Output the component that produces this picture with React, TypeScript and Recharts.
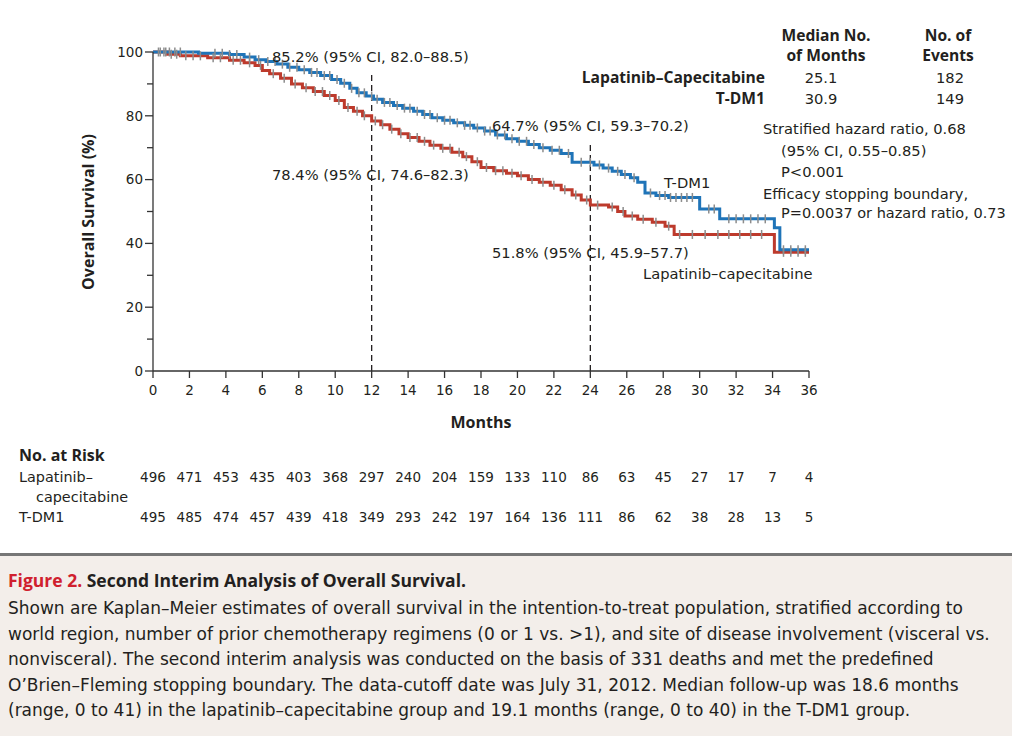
import React from "react"
import {
  ComposedChart,
  Line,
  Scatter,
  XAxis,
  YAxis,
  ReferenceLine,
} from "recharts"

// Kaplan-Meier step points: [month, survival %]
const tdm1Steps: [number, number][] = [
  [0, 100], [2.5, 99.6], [4.2, 99.2], [5.0, 98.4], [5.6, 97.6], [6.2, 97.0],
  [6.8, 96.2], [7.4, 95.2], [8.0, 94.4], [8.6, 93.6], [9.2, 92.6], [9.8, 91.4],
  [10.3, 90.2], [10.8, 88.6], [11.2, 87.2], [11.7, 86.2], [12.1, 85.2], [12.6, 84.2],
  [13.2, 83.2], [13.7, 82.4], [14.3, 81.4], [14.8, 80.4], [15.3, 79.4], [15.9, 78.6],
  [16.5, 77.8], [17.1, 77.0], [17.6, 76.2], [18.2, 75.2], [18.8, 74.0], [19.4, 72.8],
  [20.0, 72.0], [20.6, 71.0], [21.2, 70.0], [21.8, 69.2], [22.4, 68.2], [23.0, 65.4],
  [24.2, 64.6], [24.7, 63.6], [25.2, 62.6], [25.7, 61.6], [26.2, 60.6], [26.6, 59.2],
  [27.0, 55.8], [27.6, 55.0], [28.3, 54.4], [30.0, 50.8], [31.1, 47.7], [34.1, 44.9],
  [34.4, 38.0], [36.0, 38.0],
]

const lapSteps: [number, number][] = [
  [0, 100], [0.8, 99.3], [1.5, 98.8], [3.0, 98.2], [4.2, 97.4], [5.0, 96.6],
  [5.6, 95.8], [6.0, 94.2], [6.4, 93.2], [7.0, 91.8], [7.6, 90.0], [8.2, 88.8],
  [8.8, 87.6], [9.4, 86.4], [10.0, 84.8], [10.5, 82.6], [11.0, 81.4], [11.5, 80.0],
  [12.0, 78.4], [12.5, 77.2], [13.0, 75.8], [13.5, 74.4], [14.0, 73.2], [14.6, 72.0],
  [15.2, 70.8], [15.8, 69.8], [16.4, 68.6], [17.0, 67.2], [17.5, 65.6], [18.0, 63.8],
  [18.7, 62.8], [19.4, 62.0], [20.0, 61.2], [20.6, 60.0], [21.2, 59.2], [21.8, 58.2],
  [22.4, 56.8], [23.0, 55.2], [23.5, 53.6], [24.0, 52.0], [25.0, 51.4], [25.5, 50.0],
  [25.9, 48.6], [26.6, 47.6], [27.4, 46.6], [28.1, 45.4], [28.6, 42.8], [34.1, 37.2],
  [36.0, 37.2],
]

// censoring marks (months)
const tdm1Censor = [
  0.3, 0.6, 0.9, 1.2, 1.5, 3.4, 3.8, 4.2, 4.6, 5.3, 5.8, 6.3, 6.7, 7.1, 7.5, 7.9,
  8.3, 8.7, 9.0, 9.4, 9.7, 10.1, 10.5, 10.9, 11.3, 11.6, 12.0, 12.3, 12.7, 13.0,
  13.4, 13.8, 14.1, 14.5, 14.9, 15.2, 15.6, 16.0, 16.3, 16.7, 17.1, 17.4, 17.8,
  18.2, 18.5, 18.9, 19.3, 19.7, 20.1, 20.5, 20.9, 21.4, 21.9, 22.3, 22.8, 23.5,
  24.0, 24.5, 25.0, 25.5, 25.9, 26.4, 27.3, 27.8, 28.1, 28.4, 28.7, 29.0, 29.3,
  29.6, 30.5, 30.8, 31.6, 32.0, 32.4, 32.8, 33.2, 33.6, 34.6, 35.0, 35.4, 35.8,
]
const lapCensor = [
  0.4, 0.7, 1.0, 1.3, 1.8, 2.2, 2.6, 3.3, 3.7, 4.4, 4.8, 5.3, 5.9, 6.6, 7.2, 7.8,
  8.4, 8.9, 9.3, 9.7, 10.2, 10.7, 11.2, 11.6, 12.2, 12.6, 13.1, 13.6, 14.1, 14.5,
  14.9, 15.4, 15.9, 16.3, 16.8, 17.2, 17.8, 18.3, 18.8, 19.2, 19.7, 20.2, 20.8,
  21.4, 22.0, 22.6, 23.2, 23.8, 24.4, 25.2, 25.8, 26.3, 26.9, 27.6, 28.3, 28.9,
  29.6, 30.3, 31.0, 31.6, 32.2, 32.8, 33.4, 34.6, 35.0, 35.4, 35.8,
]

const monthTicks = [0, 2, 4, 6, 8, 10, 12, 14, 16, 18, 20, 22, 24, 26, 28, 30, 32, 34, 36]
const survTicks = [0, 10, 20, 30, 40, 50, 60, 70, 80, 90, 100]
const lapRisk = [496, 471, 453, 435, 403, 368, 297, 240, 204, 159, 133, 110, 86, 63, 45, 27, 17, 7, 4]
const tdm1Risk = [495, 485, 474, 457, 439, 418, 349, 293, 242, 197, 164, 136, 111, 86, 62, 38, 28, 13, 5]

// landmark dashed lines: [month, top of dashed line in %]
const landmarks: [number, number][] = [[12, 94], [24, 72]]

const captionLines = [
  "Shown are Kaplan–Meier estimates of overall survival in the intention-to-treat population, stratified according to",
  "world region, number of prior chemotherapy regimens (0 or 1 vs. >1), and site of disease involvement (visceral vs.",
  "nonvisceral). The second interim analysis was conducted on the basis of 331 deaths and met the predefined",
  "O’Brien–Fleming stopping boundary. The data-cutoff date was July 31, 2012. Median follow-up was 18.6 months",
  "(range, 0 to 41) in the lapatinib–capecitabine group and 19.1 months (range, 0 to 40) in the T-DM1 group.",
]

const BLUE = "#1f74b8"
const RED = "#bd3a2c"
const INK = "#231f20"
const SANS = '"DejaVu Sans", sans-serif'
const BOLD = '"Open Sans", sans-serif'

const toPoints = (steps: [number, number][]) => steps.map(([t, s]) => ({ t, s }))
const survivalAt = (steps: [number, number][], t: number) => {
  let s = steps[0][1]
  for (const [ti, si] of steps) if (ti <= t) s = si
  return s
}
const censorPoints = (steps: [number, number][], times: number[]) =>
  times.map((t) => ({ t, s: survivalAt(steps, t) }))

function CensorMark(props: any) {
  const { cx, cy } = props
  return <line x1={cx} x2={cx} y1={cy - 4.5} y2={cy + 4.5} stroke="#8c8c8c" strokeWidth={1.5} />
}

function YTick(props: any) {
  const { x, y, payload } = props
  const major = payload.value % 20 === 0
  return (
    <g>
      <line x1={x + 10 - (major ? 8 : 6)} x2={x + 10} y1={y} y2={y} stroke="#333" strokeWidth={1.3} />
      {major && (
        <text x={x} y={y} dy="0.36em" textAnchor="end" fontSize={13.5} fontFamily={SANS} fill={INK}>
          {payload.value}
        </text>
      )}
    </g>
  )
}

function RiskTick(props: any) {
  const { x, y, payload, counts } = props
  return (
    <text x={x} y={y + 20} dy="0.36em" textAnchor="middle" fontSize={13.5} fontFamily={SANS} fill={INK}>
      {counts[monthTicks.indexOf(payload.value)]}
    </text>
  )
}

function T({ x, y, align = "start", size = 14.7, weight = 400, color = INK, children }: any) {
  const lh = Math.round(size * 1.4)
  const base: React.CSSProperties = {
    position: "absolute",
    top: y - lh / 2,
    lineHeight: `${lh}px`,
    fontSize: size,
    fontWeight: weight,
    fontFamily: weight >= 600 ? BOLD : SANS,
    color,
    whiteSpace: "nowrap",
  }
  if (align === "middle") return <div style={{ ...base, left: x - 200, width: 400, textAlign: "center" }}>{children}</div>
  if (align === "end") return <div style={{ ...base, left: x - 600, width: 600, textAlign: "right" }}>{children}</div>
  return <div style={{ ...base, left: x }}>{children}</div>
}

export default function App() {
  return (
    <div
      style={{
        position: "absolute",
        left: 0,
        top: 0,
        width: 1012,
        height: 736,
        background: "#fff",
        fontFamily: SANS,
        color: INK,
        overflow: "hidden",
      }}
    >
      <div style={{ position: "absolute", left: 0, top: 0 }}>
        <ComposedChart width={1012} height={527} margin={{ top: 52, right: 203, bottom: 0, left: 103 }}>
          <XAxis
            type="number"
            dataKey="t"
            domain={[0, 36]}
            ticks={monthTicks}
            interval={0}
            allowDataOverflow
            height={86}
            tickSize={7}
            tickMargin={7}
            axisLine={{ stroke: "#333", strokeWidth: 1.3 }}
            tickLine={{ stroke: "#333", strokeWidth: 1.3 }}
            tick={{ fontSize: 13.5, fontFamily: SANS, fill: INK }}
          />
          <XAxis
            xAxisId="lap"
            type="number"
            dataKey="t"
            domain={[0, 36]}
            ticks={monthTicks}
            interval={0}
            allowDataOverflow
            height={40}
            tickSize={0}
            tickMargin={0}
            axisLine={false}
            tickLine={false}
            tick={(p: any) => <RiskTick {...p} counts={lapRisk} />}
          />
          <XAxis
            xAxisId="tdm1"
            type="number"
            dataKey="t"
            domain={[0, 36]}
            ticks={monthTicks}
            interval={0}
            allowDataOverflow
            height={30}
            tickSize={0}
            tickMargin={0}
            axisLine={false}
            tickLine={false}
            tick={(p: any) => <RiskTick {...p} counts={tdm1Risk} />}
          />
          <YAxis
            type="number"
            dataKey="s"
            domain={[0, 100]}
            ticks={survTicks}
            interval={0}
            width={50}
            tickSize={8}
            tickMargin={2}
            tickLine={false}
            axisLine={{ stroke: "#333", strokeWidth: 1.3 }}
            tick={<YTick />}
          />
          {landmarks.map(([m, top]) => (
            <ReferenceLine
              key={m}
              segment={[{ x: m, y: 0 }, { x: m, y: top }]}
              stroke={INK}
              strokeWidth={1.3}
              strokeDasharray="6 4"
            />
          ))}
          <Scatter data={censorPoints(tdm1Steps, tdm1Censor)} shape={<CensorMark />} isAnimationActive={false} />
          <Scatter data={censorPoints(lapSteps, lapCensor)} shape={<CensorMark />} isAnimationActive={false} />
          <Line
            data={toPoints(lapSteps)}
            dataKey="s"
            type="stepAfter"
            stroke={RED}
            strokeWidth={3}
            dot={false}
            isAnimationActive={false}
          />
          <Line
            data={toPoints(tdm1Steps)}
            dataKey="s"
            type="stepAfter"
            stroke={BLUE}
            strokeWidth={3}
            dot={false}
            isAnimationActive={false}
          />
        </ComposedChart>
      </div>

      {/* y-axis title */}
      <div
        style={{
          position: "absolute",
          left: 88 - 150,
          top: 212 - 11,
          width: 300,
          height: 22,
          lineHeight: "22px",
          textAlign: "center",
          fontSize: 16,
          fontWeight: 700,
          fontFamily: BOLD,
          transform: "rotate(-90deg)",
        }}
      >
        Overall Survival (%)
      </div>
      <T x={481} y={422} align="middle" weight={700} size={16}>Months</T>

      {/* landmark annotations */}
      <T x={272} y={56}>85.2% (95% CI, 82.0–88.5)</T>
      <T x={272} y={174}>78.4% (95% CI, 74.6–82.3)</T>
      <T x={492} y={125}>64.7% (95% CI, 59.3–70.2)</T>
      <T x={492} y={252}>51.8% (95% CI, 45.9–57.7)</T>
      <T x={664} y={182}>T-DM1</T>
      <T x={643} y={273}>Lapatinib–capecitabine</T>

      {/* summary table */}
      <T x={826} y={35} align="middle" weight={700} size={15.6}>Median No.</T>
      <T x={826} y={55} align="middle" weight={700} size={15.6}>of Months</T>
      <T x={948} y={35} align="middle" weight={700} size={15.6}>No. of</T>
      <T x={948} y={55} align="middle" weight={700} size={15.6}>Events</T>
      <T x={765} y={77} align="end" weight={700} size={15.6}>Lapatinib–Capecitabine</T>
      <T x={765} y={98} align="end" weight={700} size={15.6}>T-DM1</T>
      <T x={821} y={77} align="middle">25.1</T>
      <T x={821} y={98} align="middle">30.9</T>
      <T x={950} y={77} align="middle">182</T>
      <T x={950} y={98} align="middle">149</T>

      <T x={763} y={128}>Stratified hazard ratio, 0.68</T>
      <T x={781} y={150}>(95% CI, 0.55–0.85)</T>
      <T x={781} y={171}>P&lt;0.001</T>
      <T x={763} y={193}>Efficacy stopping boundary,</T>
      <T x={781} y={213} size={14.5}>P=0.0037 or hazard ratio, 0.73</T>

      {/* at-risk labels */}
      <T x={19} y={455} weight={700} size={16}>No. at Risk</T>
      <T x={19} y={477} size={14.4}>Lapatinib–</T>
      <T x={36} y={497} size={14.4}>capecitabine</T>
      <T x={19} y={517} size={14.4}>T-DM1</T>

      {/* caption */}
      <div
        style={{
          position: "absolute",
          left: 0,
          top: 553,
          width: 1012,
          height: 183,
          borderTop: "3px solid #767676",
          background: "#f3eeea",
          boxSizing: "border-box",
          paddingTop: 8,
          paddingLeft: 8,
          fontSize: 17,
        }}
      >
        <div style={{ lineHeight: "32px", whiteSpace: "nowrap", fontFamily: BOLD, fontWeight: 700, fontSize: 17.5 }}>
          <span style={{ color: "#d0202e" }}>Figure 2.</span> <span>Second Interim Analysis of Overall Survival.</span>
        </div>
        {captionLines.map((line) => (
          <div key={line} style={{ lineHeight: "25.5px", whiteSpace: "nowrap" }}>
            {line}
          </div>
        ))}
      </div>
    </div>
  )
}
